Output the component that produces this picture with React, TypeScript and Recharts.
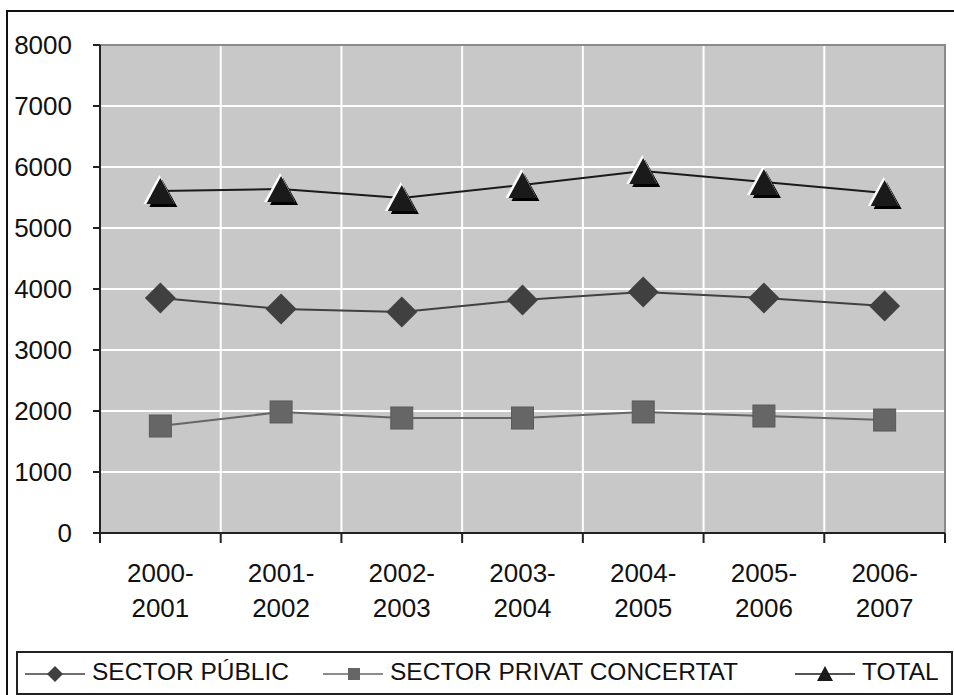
import { CartesianGrid, Line, LineChart, ReferenceArea, XAxis, YAxis } from "recharts";

const CATEGORIES = ["2000-2001", "2001-2002", "2002-2003", "2003-2004", "2004-2005", "2005-2006", "2006-2007"];
const PUBLIC = [3852, 3672, 3623, 3820, 3951, 3852, 3721];
const PRIVAT = [1754, 1984, 1885, 1885, 1984, 1918, 1852];
const TOTAL = [5607, 5640, 5490, 5705, 5934, 5754, 5574];
const Y_TICKS = [0, 1000, 2000, 3000, 4000, 5000, 6000, 7000, 8000];
const X_BOUNDS = [0, 1, 2, 3, 4, 5, 6, 7];

const W = 954;
const H = 695;
const MARGIN = { top: 45, right: 9, bottom: 62, left: 8 };
const Y_AXIS_W = 92;
const BAND = (W - MARGIN.left - MARGIN.right - Y_AXIS_W) / CATEGORIES.length;
const FONT = "'Liberation Sans', Arial, sans-serif";

const rows = CATEGORIES.map((c, i) => ({
  x: i + 0.5,
  name: c,
  publicV: PUBLIC[i],
  privat: PRIVAT[i],
  total: TOTAL[i],
}));

const XTick = (props: any) => {
  const { x, y, payload } = props;
  const i = payload.value;
  if (i >= CATEGORIES.length) return null;
  const [a, b] = CATEGORIES[i].split("-");
  const cx = x + BAND / 2;
  return (
    <text x={cx} y={y} textAnchor="middle" fontFamily={FONT} fontSize={26} fill="#111">
      <tspan x={cx} dy={37}>{a + "-"}</tspan>
      <tspan x={cx} dy={35}>{b}</tspan>
    </text>
  );
};

const Diamond = (props: any) => {
  const { cx, cy, index } = props;
  const r = 15.5;
  return (
    <polygon
      key={index}
      points={`${cx},${cy - r} ${cx + r},${cy} ${cx},${cy + r} ${cx - r},${cy}`}
      fill="#404040"
    />
  );
};

const Square = (props: any) => {
  const { cx, cy, index } = props;
  const s = 11;
  return <rect key={index} x={cx - s} y={cy - s} width={s * 2} height={s * 2} fill="#666666" stroke="#5a5a5a" />;
};

const Triangle = (props: any) => {
  const { cx, cy, index } = props;
  const hw = 14;
  const top = cy - 13;
  const bot = cy + 13;
  return (
    <g key={index}>
      <polygon points={`${cx + 2},${top + 2} ${cx + hw + 3},${bot + 3} ${cx - hw + 3},${bot + 3}`} fill="#000" />
      <polygon points={`${cx - 1},${top - 3} ${cx + hw},${bot} ${cx - hw - 3},${bot}`} fill="#fff" />
      <polygon points={`${cx},${top} ${cx + hw},${bot} ${cx - hw},${bot}`} fill="#1a1a1a" />
    </g>
  );
};

const legendText = { fontFamily: FONT, fontSize: 24.5, lineHeight: "28px", color: "#111", position: "absolute" as const, top: 5 };

export default function App() {
  return (
    <div style={{ position: "absolute", left: 0, top: 0, width: W, height: H, overflow: "hidden", background: "#fff" }}>
      <div
        style={{
          position: "absolute",
          left: 6,
          top: 10,
          width: 1200,
          height: 1200,
          borderLeft: "2px solid #111",
          borderTop: "2px solid #111",
        }}
      />
      <LineChart width={W} height={H} data={rows} margin={MARGIN}>
        <CartesianGrid stroke="#ffffff" strokeWidth={2} fill="#c8c8c8" fillOpacity={1} />
        <ReferenceArea x1={0} x2={7} y1={0} y2={8000} fill="none" stroke="#8a8a8a" strokeWidth={2} ifOverflow="extendDomain" />
        <XAxis
          type="number"
          dataKey="x"
          domain={[0, 7]}
          ticks={X_BOUNDS}
          interval={0}
          tickSize={10}
          height={100}
          axisLine={{ stroke: "#222", strokeWidth: 2 }}
          tickLine={{ stroke: "#222", strokeWidth: 2 }}
          tick={<XTick />}
        />
        <YAxis
          domain={[0, 8000]}
          ticks={Y_TICKS}
          interval={0}
          width={Y_AXIS_W}
          tickSize={7}
          tickMargin={21}
          axisLine={{ stroke: "#222", strokeWidth: 2 }}
          tickLine={{ stroke: "#222", strokeWidth: 2 }}
          tick={{ fontFamily: FONT, fontSize: 26, fill: "#111" }}
        />
        <Line dataKey="privat" stroke="#666666" strokeWidth={2} dot={<Square />} isAnimationActive={false} />
        <Line dataKey="publicV" stroke="#404040" strokeWidth={2} dot={<Diamond />} isAnimationActive={false} />
        <Line dataKey="total" stroke="#1a1a1a" strokeWidth={2} dot={<Triangle />} isAnimationActive={false} />
      </LineChart>
      <div
        style={{
          position: "absolute",
          left: 16,
          top: 651,
          width: 933,
          height: 40,
          border: "2px solid #222",
          background: "#fff",
        }}
      >
        <svg width={933} height={40} style={{ position: "absolute", left: 0, top: 0 }}>
          <line x1={7} x2={67} y1={21} y2={21} stroke="#404040" strokeWidth={1.5} />
          <polygon points="37,13 45,21 37,29 29,21" fill="#404040" />
          <line x1={305} x2={365} y1={21} y2={21} stroke="#666" strokeWidth={1.5} />
          <rect x={330} y={15} width={12} height={12} fill="#666" />
          <line x1={777} x2={837} y1={21} y2={21} stroke="#1a1a1a" strokeWidth={1.5} />
          <polygon points="807,13 815,28 799,28" fill="#1a1a1a" />
        </svg>
        <span style={{ ...legendText, left: 74 }}>SECTOR PÚBLIC</span>
        <span style={{ ...legendText, left: 372 }}>SECTOR PRIVAT CONCERTAT</span>
        <span style={{ ...legendText, left: 844 }}>TOTAL</span>
      </div>
    </div>
  );
}
